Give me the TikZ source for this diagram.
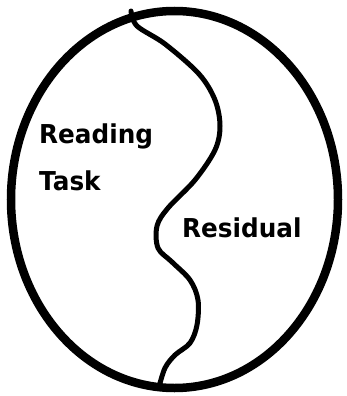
\documentclass[tikz,border=0pt]{standalone}
\usepackage{fontspec}
\newfontfamily\lblfont{DejaVu Sans}
\usepackage{tikz}
\tikzset{
  rim/.style={line width=8.5pt},
  split/.style={line width=5pt,line cap=round,line join=round},
  lbl/.style={font=\lblfont\bfseries\fontsize{26}{30}\selectfont,inner sep=0pt,anchor=west,xscale=0.95}
}
\begin{document}
\begin{tikzpicture}[x=1pt,y=-1pt]
\useasboundingbox (0,0) rectangle (347,396);
\draw[rim] (174.5,199.5) ellipse [x radius=163.5,y radius=-188.5];
\draw[split] plot[smooth,tension=0.55] coordinates {(131,11) (137,26) (165,44) (199,74) (215,100) (220,126) (215,150) (195,180) (168,208) (157,226) (158,248) (172,262) (190,280) (198,300) (197,325) (190,343) (175,355) (165,368) (159,387)};
\node[lbl] (reading) at (39,136) {Reading};
\node[lbl] (task) at (39,181) {Task};
\node[lbl] (residual) at (182,228) {Residual};
\end{tikzpicture}
\end{document}
